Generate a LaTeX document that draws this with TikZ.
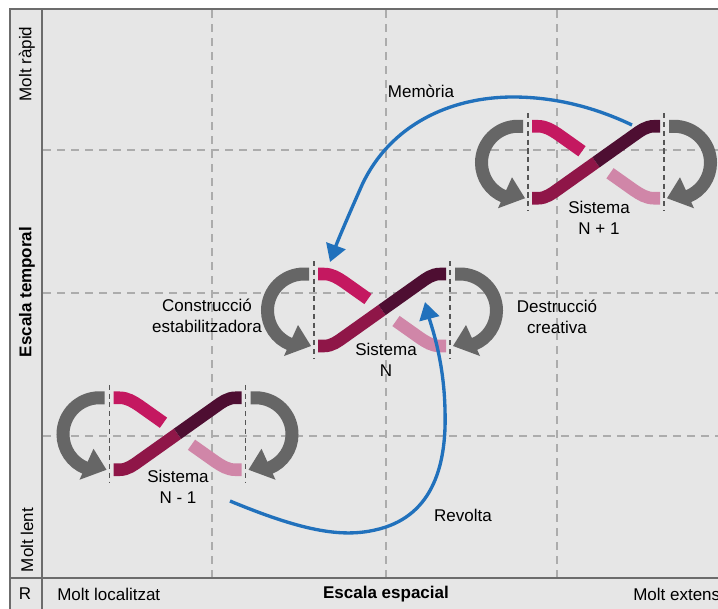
\documentclass[tikz,border=0pt]{standalone}
\usepackage{fontspec}
\setmainfont{Liberation Sans}
\usetikzlibrary{arrows.meta}
\definecolor{bggray}{RGB}{230,230,230}
\definecolor{framegray}{RGB}{108,108,108}
\definecolor{gridgray}{RGB}{172,172,172}
\definecolor{sysdashgray}{RGB}{85,85,85}
\definecolor{loopgray}{RGB}{102,102,102}
\definecolor{barpink}{RGB}{196,24,96}
\definecolor{barlight}{RGB}{208,134,168}
\definecolor{bardark}{RGB}{143,22,72}
\definecolor{barplum}{RGB}{78,14,50}
\definecolor{arrowblue}{RGB}{33,113,188}
\tikzset{
  framestyle/.style={draw=framegray, line width=1.5pt},
  griddash/.style={draw=gridgray, line width=1.5pt, dash pattern=on 6pt off 4.5pt},
  sysdash/.style={draw=sysdashgray, line width=1.2pt, dash pattern=on 3.8pt off 2.8pt},
  loopline/.style={draw=loopgray, line width=9.75pt, line cap=butt},
  barline/.style={line width=9.4pt, line cap=butt},
  bluearrow/.style={draw=arrowblue, line width=2.5pt, -{Triangle[width=15pt,length=13pt]}},
  lbl/.style={align=center, inner sep=0pt},
  sistema/.pic={
    \draw[sysdash] (-68,-49) -- (-68,48);
    \draw[sysdash] (68,-49) -- (68,48);
    \draw[loopline] (-73,-36) -- (-78,-36) arc (270:112:36.5);
    \fill[loopgray] (-71,36) -- (-98,46) -- (-84,15) -- cycle;
    \draw[loopline] (73,-36) -- (78,-36) arc (-90:68:36.5);
    \fill[loopgray] (71,36) -- (98,46) -- (84,15) -- cycle;
    \draw[barline, draw=barpink] (-64,-36) -- (-58,-36) .. controls (-50,-36) and (-44,-32) .. (-38,-28) -- (-14,-11);
    \draw[barline, draw=barlight] (14,11) -- (38,28) .. controls (44,32) and (50,36) .. (58,36) -- (64,36);
    \draw[barline, draw=bardark] (-64,36) -- (-58,36) .. controls (-50,36) and (-44,31.3) .. (-38,27) -- (0,0);
    \draw[barline, draw=barplum] (0,0) -- (38,-27) .. controls (44,-31.3) and (50,-36) .. (58,-36) -- (64,-36);
  }
}
\begin{document}
\begin{tikzpicture}[x=0.75pt,y=-0.75pt, font=\fontsize{12.75}{15.75}\selectfont]
\useasboundingbox (0,0) rectangle (718,608);
\fill[white] (0,0) rectangle (718,608);
\fill[bggray] (10,9) rectangle (720,610);
% grid
\foreach \gx in {212,386,557} \draw[griddash] (\gx,10) -- (\gx,578);
\foreach \gy in {150,293,436} \draw[griddash] (43,\gy) -- (720,\gy);
% frame
\draw[framestyle] (10,610) -- (10,9) -- (720,9);
\draw[framestyle] (42,9) -- (42,610);
\draw[framestyle] (10,578) -- (720,578);
% axis texts
\node[rotate=90] (rapid) at (27,64) {Molt ràpid};
\node[rotate=90, font=\fontsize{12.75}{15.75}\selectfont\bfseries] (temporal) at (27,292) {Escala temporal};
\node[rotate=90] (lent) at (27,540) {Molt lent};
\node (r) at (25,594) {R};
\node[anchor=west, inner sep=0pt] (local) at (57,594) {Molt localitzat};
\node[font=\fontsize{12.75}{15.75}\selectfont\bfseries] (espacial) at (386,594) {Escala espacial};
\node[anchor=west, inner sep=0pt] (extens) at (633,594) {Molt extens};
% systems
\pic (sa) at (177.5,433.75) {sistema};
\pic (sb) at (382,310) {sistema};
\pic (sc) at (596,162.25) {sistema};
\node[lbl] (la) at (178,487) {Sistema\\N - 1};
\node[lbl] (lb) at (386,360) {Sistema\\N};
\node[lbl] (lc) at (599,218) {Sistema\\N + 1};
\node[lbl] (cons) at (207,316) {Construcció\\estabilitzadora};
\node[lbl] (dest) at (557,317) {Destrucció\\creativa};
% blue connectors
\coordinate (memS) at (632,125);
\coordinate (memE) at (330,262);
\coordinate (revS) at (230,501);
\coordinate (revE) at (425,302);
\draw[bluearrow] (memS) .. controls (590,105) and (550,97) .. (513,97) .. controls (450,97) and (390,125) .. (362,185) .. controls (350,212) and (338,240) .. (memE);
\draw[bluearrow] (revS) .. controls (300,530) and (340,538) .. (375,530) .. controls (430,518) and (447,470) .. (445,410) .. controls (444,360) and (431,325) .. (revE);
\node (mem) at (421,91) {Memòria};
\node (rev) at (463,515) {Revolta};
\end{tikzpicture}
\end{document}
